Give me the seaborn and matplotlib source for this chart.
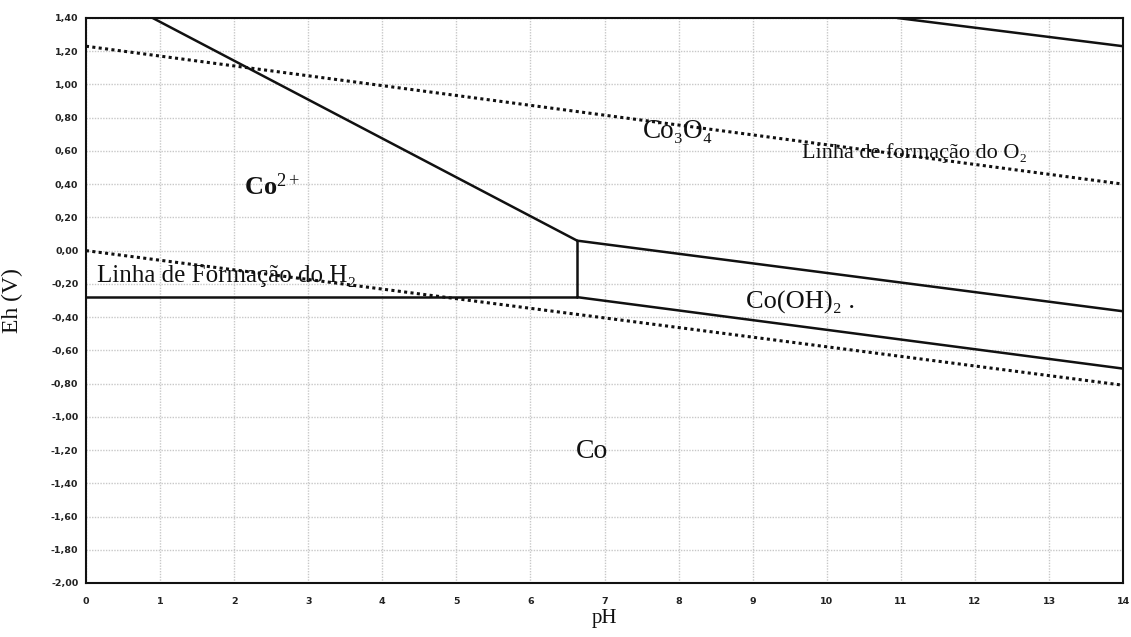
import numpy as np
import pandas as pd
import matplotlib
matplotlib.use("Agg")
import matplotlib.pyplot as plt
from matplotlib.ticker import MultipleLocator, FuncFormatter
import seaborn as sns

# Boundary lines of the Co–H2O Eh-pH diagram (pH, Eh in V)
co2_co3o4_ph = [0.90, 6.63]
co2_co3o4_eh = [1.40, 0.06]

co2_coohx_ph = [6.63, 6.63]
co2_coohx_eh = [0.06, -0.28]

co2_co_ph = [0.0, 6.63]
co2_co_eh = [-0.28, -0.28]

co_cooh2_ph = [6.63, 14.0]
co_cooh2_eh = [-0.28, -0.71]

cooh2_co3o4_ph = [6.63, 14.0]
cooh2_co3o4_eh = [0.06, -0.365]

co3o4_upper_ph = [10.95, 14.0]
co3o4_upper_eh = [1.40, 1.23]

# Water stability limits
o2_ph = [0.0, 14.0]
o2_eh = [1.23, 0.40]
h2_ph = [0.0, 14.0]
h2_eh = [0.00, -0.81]

x_ticks = list(range(0, 15))
y_ticks = [round(v, 2) for v in np.arange(-2.0, 1.401, 0.2)]

sns.set_theme(style="white")
plt.rcParams["font.family"] = ["DejaVu Sans"]
plt.rcParams["mathtext.fontset"] = "custom"
plt.rcParams["mathtext.rm"] = "Liberation Serif"
plt.rcParams["mathtext.it"] = "Liberation Serif:italic"
plt.rcParams["mathtext.bf"] = "Liberation Serif:bold"

fig = plt.figure(figsize=(11.31, 6.37), dpi=100)
ax = fig.add_axes([0.076, 0.0848, 0.917, 0.887])

solid = [
    (co2_co3o4_ph, co2_co3o4_eh),
    (co2_coohx_ph, co2_coohx_eh),
    (co2_co_ph, co2_co_eh),
    (co_cooh2_ph, co_cooh2_eh),
    (cooh2_co3o4_ph, cooh2_co3o4_eh),
    (co3o4_upper_ph, co3o4_upper_eh),
]
for px, py in solid:
    sns.lineplot(x=px, y=py, ax=ax, color="#111111", linewidth=1.8,
                 sort=False, estimator=None)

for px, py in [(o2_ph, o2_eh), (h2_ph, h2_eh)]:
    sns.lineplot(x=px, y=py, ax=ax, color="#111111", linewidth=2.2,
                 sort=False, estimator=None, linestyle=(0, (1.0, 1.1)),
                 dash_capstyle="butt")

ax.set_xlim(0, 14)
ax.set_ylim(-2.0, 1.40)
ax.set_xticks(x_ticks)
ax.set_yticks(y_ticks)
ax.xaxis.set_minor_locator(MultipleLocator(0.2))
ax.yaxis.set_minor_locator(MultipleLocator(0.04))
ax.yaxis.set_major_formatter(FuncFormatter(lambda v, p: f"{v:.2f}".replace(".", ",").replace("-0,00", "0,00")))
ax.xaxis.set_major_formatter(FuncFormatter(lambda v, p: f"{int(round(v))}"))

ax.tick_params(axis="both", which="major", direction="out", length=4, width=1.2,
               colors="#222222", labelsize=6.8, pad=1.5)
ax.tick_params(axis="both", which="minor", direction="out", length=2, width=1.0,
               colors="#222222")
ax.tick_params(axis="x", which="major", pad=6)
for lab in ax.get_xticklabels() + ax.get_yticklabels():
    lab.set_fontweight("bold")

ax.grid(True, which="major", color="#c8c8c8", linestyle=(0, (1, 1)), linewidth=1.0)
for s in ax.spines.values():
    s.set_color("#111111")
    s.set_linewidth(1.5)

serif = ["Liberation Serif", "DejaVu Serif"]
ax.text(7.99, 0.714, "Co₃O₄", fontsize=19.5, family=serif, ha="center", va="center", color="#111111")
ax.text(2.51, 0.383, r"$\mathbf{Co}^{2+}$", fontsize=19, family=serif, ha="center", va="center", color="#111111")
ax.text(11.18, 0.588, "Linha de formação do O₂", fontsize=16, family=serif, ha="center", va="center", color="#111111")
ax.text(0.15, -0.152, "Linha de Formação do H₂", fontsize=18, family=serif, ha="left", va="center", color="#111111")
ax.text(9.64, -0.309, "Co(OH)₂ .", fontsize=19, family=serif, ha="center", va="center", color="#111111")
ax.text(6.83, -1.211, "Co", fontsize=20, family=serif, ha="center", va="center", color="#111111")

ax.set_xlabel("pH", fontsize=15, family=serif, color="#111111", labelpad=2)
ax.set_ylabel("Eh (V)", fontsize=17, family=serif, color="#111111", labelpad=20)

fig.savefig("out.png", dpi=100, facecolor="white")
